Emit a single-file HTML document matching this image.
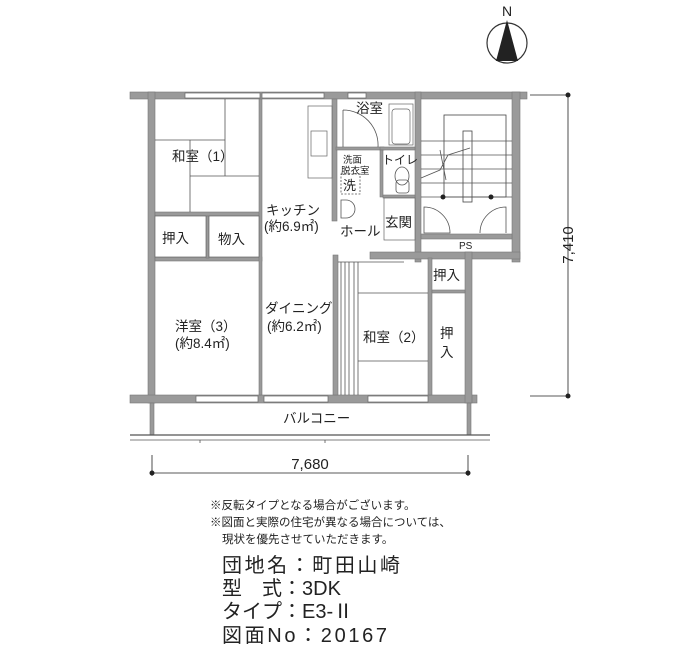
<!DOCTYPE html><html><head><meta charset="utf-8"><style>
body{margin:0;background:#fff;width:700px;height:650px;overflow:hidden}
svg{display:block}
text{font-family:"Liberation Sans","Noto Sans CJK JP",sans-serif;fill:#222}
</style></head><body>
<svg width="700" height="650" viewBox="0 0 700 650" xmlns="http://www.w3.org/2000/svg">
<g fill="#9a9a9a" stroke="#777" stroke-width="0.6">
<rect x="130" y="92" width="397" height="7"/>
<rect x="148" y="92" width="7" height="311"/>
<rect x="130" y="395" width="347" height="8"/>
<rect x="512" y="92" width="8" height="170"/>
<rect x="415" y="92" width="6" height="170"/>
<rect x="332" y="99" width="5" height="122"/>
<rect x="370" y="252" width="150" height="7"/>
<rect x="465" y="252" width="7" height="151"/>
<rect x="333" y="255" width="5" height="140"/>
<rect x="155" y="212" width="105" height="4"/>
<rect x="155" y="257" width="107" height="4"/>
<rect x="259" y="99" width="3" height="296"/>
<rect x="206" y="216" width="3" height="42"/>
<rect x="336" y="147" width="48" height="3"/>
<rect x="380" y="147" width="35" height="3"/>
<rect x="380" y="150" width="3" height="47"/>
<rect x="383" y="195" width="32" height="3"/>
<rect x="428" y="258" width="4" height="137"/>
<rect x="432" y="290" width="33" height="3"/>
<rect x="421" y="234" width="91" height="5"/>
<rect x="150" y="403" width="4" height="32"/>
<rect x="467" y="403" width="4" height="32"/>
</g>
<g fill="#fff" stroke="#666" stroke-width="0.7">
<rect x="185" y="93" width="75" height="5"/>
<rect x="262" y="93" width="62" height="5"/>
<rect x="348" y="93" width="18" height="5"/>
<rect x="196" y="396" width="62" height="6"/>
<rect x="264" y="396" width="64" height="6"/>
<rect x="368" y="396" width="60" height="6"/>
<rect x="308" y="106" width="24" height="72"/>
<rect x="311" y="131" width="16" height="25"/>
<rect x="389" y="104" width="24" height="41"/>
<rect x="392" y="109" width="18" height="35" rx="3"/>
<rect x="384" y="198" width="31" height="42"/>
<rect x="155" y="216" width="51" height="41"/>
<rect x="209" y="216" width="50" height="41"/>
</g>
<g fill="none" stroke="#555" stroke-width="0.8">
<line x1="155" y1="140" x2="225" y2="140"/><line x1="225" y1="99" x2="225" y2="176"/>
<line x1="190" y1="176" x2="259" y2="176"/><line x1="190" y1="140" x2="190" y2="212"/>
<line x1="358" y1="293" x2="428" y2="293"/><line x1="358" y1="361" x2="428" y2="361"/>
<line x1="341" y1="262" x2="341" y2="395"/><line x1="345" y1="262" x2="345" y2="395"/>
<line x1="349" y1="262" x2="349" y2="395"/><line x1="354" y1="262" x2="354" y2="395"/>
<line x1="358" y1="262" x2="358" y2="395"/>
<line x1="338" y1="262" x2="404" y2="262"/>
<path d="M343 110 A35 35 0 0 1 378 147 M343 110 L343 147"/>
<rect x="341" y="174" width="19" height="20" stroke-dasharray="2 1.5"/>
<path d="M341 200 h5 a9 9 0 0 1 0 18 h-5 z"/>
<ellipse cx="402" cy="176" rx="7" ry="9"/><rect x="396" y="180" width="13" height="13" rx="3"/>
<rect x="444" y="115" width="62" height="82" stroke="#444"/>
<rect x="463" y="131" width="9" height="71" stroke="#444"/>
<line x1="421" y1="141" x2="512" y2="141"/><line x1="421" y1="155" x2="512" y2="155"/>
<line x1="421" y1="169" x2="512" y2="169"/><line x1="421" y1="183" x2="512" y2="183"/>
<line x1="421" y1="197" x2="512" y2="197"/>
<path d="M421 178 L440 170 L448 155 L470 148 M440 150 L446 180"/>
<path d="M424 233 L424 207 A26 26 0 0 1 450 233 Z"/>
<path d="M480 233 A26 26 0 0 1 506 207 L506 233"/>
<line x1="130" y1="435" x2="490" y2="435" stroke-width="1.3"/>
<line x1="130" y1="440" x2="490" y2="440"/>
<line x1="200" y1="440" x2="200" y2="443"/><line x1="325" y1="440" x2="325" y2="443"/>
<line x1="530" y1="95" x2="568" y2="95" stroke="#222"/>
<line x1="530" y1="396" x2="568" y2="396" stroke="#222"/>
<line x1="568" y1="95" x2="568" y2="396" stroke="#222"/>
<line x1="152" y1="473" x2="468" y2="473" stroke="#222"/>
<line x1="152" y1="455" x2="152" y2="476" stroke="#222"/>
<line x1="468" y1="455" x2="468" y2="476" stroke="#222"/>
<circle cx="507" cy="43" r="20" stroke="#333" stroke-width="1.2"/>
</g>
<circle cx="568" cy="95" r="2.5" fill="#222"/><circle cx="568" cy="396" r="2.5" fill="#222"/>
<circle cx="152" cy="473" r="2.5" fill="#222"/><circle cx="468" cy="473" r="2.5" fill="#222"/>
<circle cx="443" cy="197" r="2.5" fill="#222"/><circle cx="491" cy="197" r="2.5" fill="#222"/>
<polygon points="507,20 496,61 518,61" fill="#222"/>
<text x="507" y="16" font-size="14" text-anchor="middle">N</text>
<g font-size="13.5">
<text x="172" y="161">和室（1）</text>
<text x="162" y="243">押入</text>
<text x="218" y="244">物入</text>
<text x="266" y="215">キッチン</text>
<text x="264" y="231">(約6.9㎡)</text>
<text x="356" y="113">浴室</text>
<text x="340" y="236">ホール</text>
<text x="385" y="227">玄関</text>
<text x="382" y="164" font-size="12">トイレ</text>
<text x="265" y="313">ダイニング</text>
<text x="267" y="331">(約6.2㎡)</text>
<text x="175" y="331">洋室（3）</text>
<text x="175" y="348">(約8.4㎡)</text>
<text x="363" y="342">和室（2）</text>
<text x="433" y="280">押入</text>
<text x="440" y="338">押</text><text x="440" y="357">入</text>
<text x="283" y="423">バルコニー</text>
<text x="343" y="190" font-size="13">洗</text>
</g>
<text x="343" y="163" font-size="9.5">洗面</text>
<text x="341" y="174" font-size="9.5">脱衣室</text>
<text x="459" y="249" font-size="10">PS</text>
<text x="310" y="469" font-size="15" text-anchor="middle">7,680</text>
<text x="0" y="0" font-size="15" text-anchor="middle" transform="translate(573,245) rotate(-90)">7,410</text>
<g font-size="11.5">
<text x="210" y="509">※反転タイプとなる場合がございます。</text>
<text x="210" y="526">※図面と実際の住宅が異なる場合については、</text>
<text x="222" y="543">現状を優先させていただきます。</text>
</g>
<g font-size="20">
<text x="222" y="572" textLength="178">団地名：町田山崎</text>
<text x="222" y="595">型　式：3DK</text>
<text x="222" y="618">タイプ：E3-Ⅱ</text>
<text x="222" y="642" textLength="165">図面No：20167</text>
</g>
</svg>
</body></html>
